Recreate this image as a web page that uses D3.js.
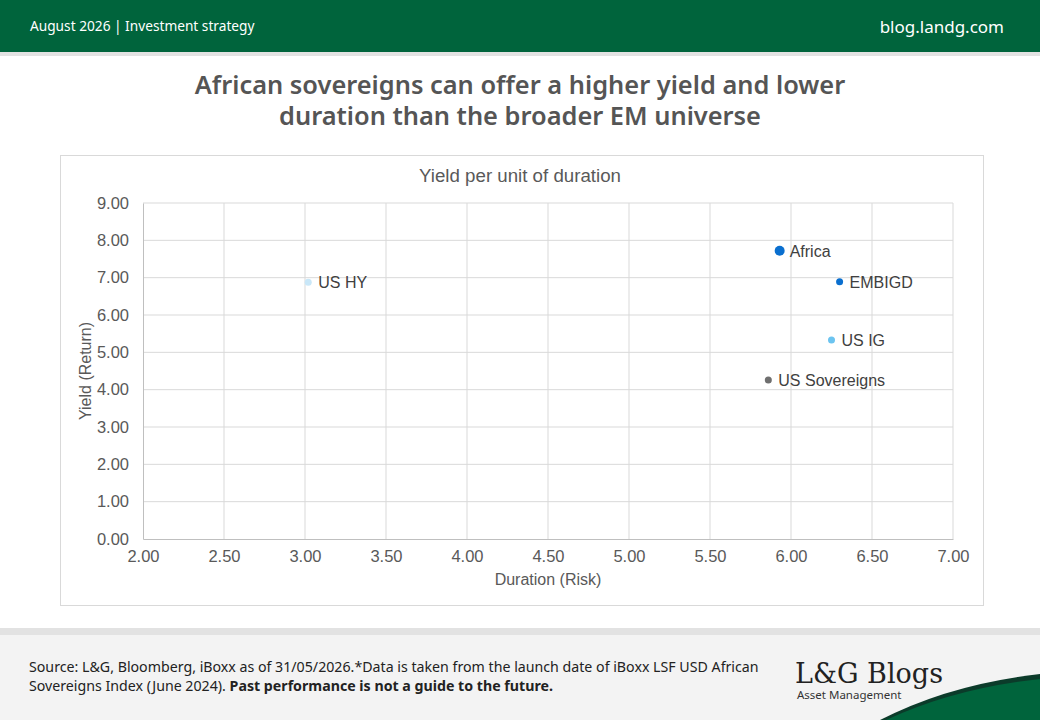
<!DOCTYPE html>
<html>
<head>
<meta charset="utf-8">
<script src="https://cdn.jsdelivr.net/npm/d3@7"></script>
<style>
  body { margin: 0; background: #fff; }
  svg { display: block; }
</style>
</head>
<body>
<svg id="chart" width="1040" height="720"></svg>
<script>
// data
var names = ["Africa", "EMBIGD", "US IG", "US Sovereigns", "US HY"];
var duration = [5.93, 6.30, 6.25, 5.86, 3.02];
var yieldVals = [7.72, 6.89, 5.33, 4.26, 6.88];
var dotColors = ["#0a6fcf", "#0a6fcf", "#6cc4f0", "#6f6f6f", "#c9e7f8"];
var dotSizes = [5, 3.5, 3.5, 3.5, 3.5];
var xTicks = [2, 2.5, 3, 3.5, 4, 4.5, 5, 5.5, 6, 6.5, 7];
var yTicks = [0, 1, 2, 3, 4, 5, 6, 7, 8, 9];

var svg = d3.select("#chart");

// header band
svg.append("rect").attr("x", 0).attr("y", 0).attr("width", 1040).attr("height", 52).attr("fill", "#00643c");
svg.append("rect").attr("x", 0).attr("y", 52).attr("width", 1040).attr("height", 4).attr("fill", "#e2e2e2");
svg.append("text").attr("x", 30).attr("y", 31)
    .attr("font-family", "Noto Sans").attr("font-size", 13.7).attr("fill", "#fff")
    .text("August 2026 |  Investment strategy");
svg.append("text").attr("x", 1004).attr("y", 33).attr("text-anchor", "end")
    .attr("font-family", "Noto Sans").attr("font-size", 17).attr("fill", "#fff")
    .text("blog.landg.com");

// main title
var title = ["African sovereigns can offer a higher yield and lower", "duration than the broader EM universe"];
title.forEach(function(line, i) {
    svg.append("text").attr("x", 520).attr("y", 94 + i * 31).attr("text-anchor", "middle")
        .attr("font-family", "Noto Sans").attr("font-weight", 600).attr("font-size", 25.4)
        .attr("fill", "#555").text(line);
});

// chart frame
svg.append("rect").attr("x", 60.5).attr("y", 155.5).attr("width", 923).attr("height", 450)
    .attr("fill", "#fff").attr("stroke", "#d9d9d9");
svg.append("text").attr("x", 520).attr("y", 182).attr("text-anchor", "middle")
    .attr("font-family", "Liberation Sans").attr("font-size", 18.7).attr("fill", "#595959")
    .text("Yield per unit of duration");

var x = d3.scaleLinear().domain([2, 7]).range([143, 953]);
var y = d3.scaleLinear().domain([0, 9]).range([539, 203]);

var g = svg.append("g");

// grid
g.selectAll(".vg").data(xTicks.slice(1)).enter().append("line")
    .attr("x1", d => x(d)).attr("x2", d => x(d)).attr("y1", y(9)).attr("y2", y(0))
    .attr("stroke", "#d9d9d9");
g.selectAll(".hg").data(yTicks.slice(1)).enter().append("line")
    .attr("x1", x(2)).attr("x2", x(7)).attr("y1", d => y(d)).attr("y2", d => y(d))
    .attr("stroke", "#d9d9d9");

// axes
var xAxis = g.append("g").attr("transform", "translate(0," + y(0) + ")")
    .call(d3.axisBottom(x).tickValues(xTicks).tickFormat(d3.format(".2f")).tickSize(0).tickPadding(11));
var yAxis = g.append("g").attr("transform", "translate(" + x(2) + ",0)")
    .call(d3.axisLeft(y).tickValues(yTicks).tickFormat(d3.format(".2f")).tickSize(0).tickPadding(14));
[xAxis, yAxis].forEach(function(a) {
    a.select(".domain").attr("stroke", "#bfbfbf");
    a.selectAll("text").attr("font-family", "Liberation Sans").attr("font-size", 16.5).attr("fill", "#595959");
});

// axis titles
svg.append("text").attr("x", 548).attr("y", 585).attr("text-anchor", "middle")
    .attr("font-family", "Liberation Sans").attr("font-size", 16).attr("fill", "#595959")
    .text("Duration (Risk)");
svg.append("text").attr("transform", "translate(91,371) rotate(-90)").attr("text-anchor", "middle")
    .attr("font-family", "Liberation Sans").attr("font-size", 16).attr("fill", "#595959")
    .text("Yield (Return)");

// points
var pts = names.map((n, i) => ({name: n, dx: duration[i], dy: yieldVals[i], c: dotColors[i], r: dotSizes[i]}));
g.selectAll(".dot").data(pts).enter().append("circle")
    .attr("cx", d => x(d.dx)).attr("cy", d => y(d.dy)).attr("r", d => d.r).attr("fill", d => d.c);
g.selectAll(".lbl").data(pts).enter().append("text")
    .attr("x", d => x(d.dx) + 10).attr("y", d => y(d.dy) + 6)
    .attr("font-family", "Liberation Sans").attr("font-size", 16).attr("fill", "#404040")
    .text(d => d.name);

// footer
svg.append("rect").attr("x", 0).attr("y", 628).attr("width", 1040).attr("height", 92).attr("fill", "#f3f3f3");
svg.append("rect").attr("x", 0).attr("y", 628).attr("width", 1040).attr("height", 7).attr("fill", "#e2e2e2");
var foot = svg.append("g").attr("font-family", "Noto Sans").attr("font-size", 14.2).attr("fill", "#222");
foot.append("text").attr("x", 29).attr("y", 672)
    .text("Source: L&G, Bloomberg, iBoxx as of 31/05/2026.*Data is taken from the launch date of iBoxx LSF USD African");
var l2 = foot.append("text").attr("x", 29).attr("y", 691);
l2.append("tspan").text("Sovereigns Index (June 2024). ");
l2.append("tspan").attr("font-weight", 700).text("Past performance is not a guide to the future.");

// logo
svg.append("text").attr("x", 795).attr("y", 683)
    .attr("font-family", "DejaVu Serif").attr("font-size", 27).attr("fill", "#222")
    .text("L&G Blogs");
svg.append("text").attr("x", 797).attr("y", 699)
    .attr("font-family", "Noto Sans").attr("font-size", 11.5).attr("fill", "#333")
    .text("Asset Management");

// green swoosh
svg.append("path").attr("d", "M880,720 Q950,684 1040,674 L1040,720 Z").attr("fill", "#0b3b2a");
svg.append("path").attr("d", "M886,720 Q955,688 1040,679 L1040,720 Z").attr("fill", "#00643c");
</script>
</body>
</html>
